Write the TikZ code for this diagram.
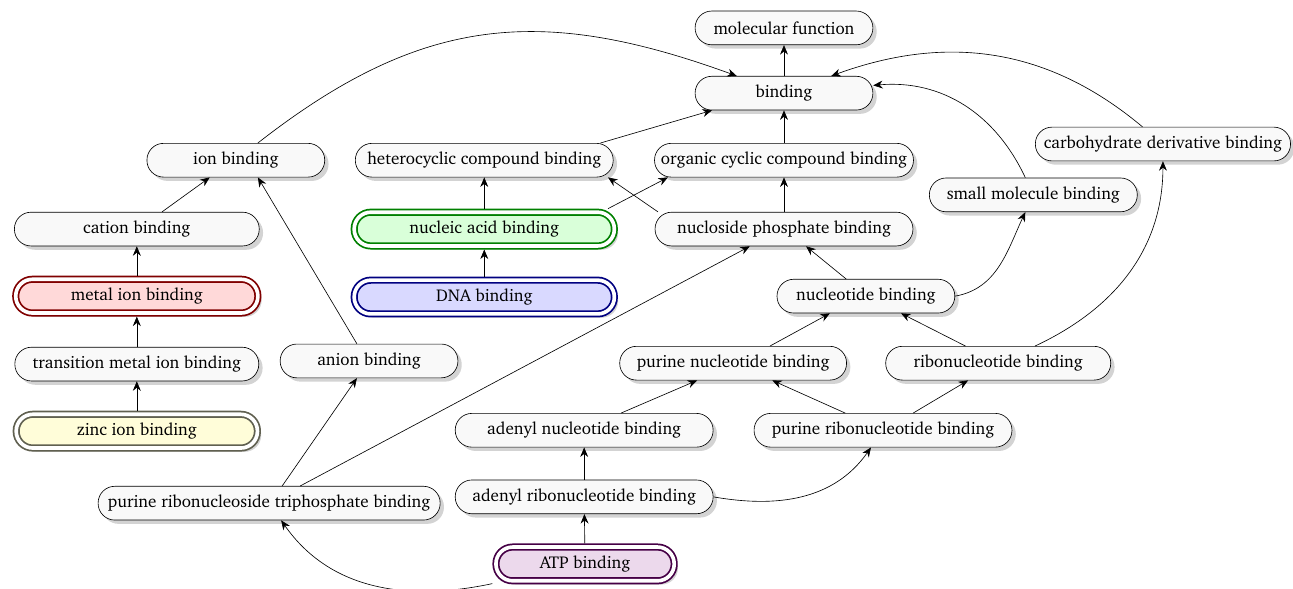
\documentclass[tikz,border=0pt]{standalone}
\usepackage[T1]{fontenc}
\usepackage{charter}
\usepackage{xcolor}
\usepackage{tikz}
\usetikzlibrary{positioning,arrows.meta,shadows}
\definecolor{zincedge}{RGB}{96,96,80}

\begin{document}
\begin{tikzpicture}[
  >={Stealth[length=6pt,width=5pt]},
  term/.style={draw, rectangle, rounded corners=0.37cm, fill=gray!5,
               drop shadow={opacity=0.35}, minimum height=0.75cm,
               minimum width=3.95cm, inner xsep=4pt,
               font=\fontsize{10.8pt}{13pt}\selectfont},
  hilite/.style 2 args={term, double, draw=#1, fill=#2, line width=1.1pt,
               double distance=2.3pt, outer sep=2.25pt}
]
\useasboundingbox (0,0) rectangle (28.73,-13.07);

% --- Top of the ontology ---
\node[term] (molfun) at (17.42,-0.62) {molecular function};
\node[term] (binding) at (17.42,-2.07) {binding};

% --- Direct children of binding ---
\node[term] (ion) at (5.24,-3.56) {ion binding};
\node[term, minimum width=5.73cm] (hetero) at (10.76,-3.56) {heterocyclic compound binding};
\node[term, minimum width=5.73cm] (orgcyc) at (17.42,-3.56) {organic cyclic compound binding};
\node[term, minimum width=5.67cm] (carbo) at (25.84,-3.20) {carbohydrate derivative binding};
\node[term, minimum width=4.62cm] (smallmol) at (22.96,-4.33) {small molecule binding};

% --- Ion branch (left column) ---
\node[term, minimum width=5.44cm] (cation) at (3.04,-5.09) {cation binding};
\node[hilite={red!50!black}{red!15}, minimum width=5.38cm] (metal) at (3.04,-6.58) {metal ion binding};
\node[term, minimum width=5.42cm] (transmetal) at (3.04,-8.09) {transition metal ion binding};
\node[hilite={zincedge}{yellow!15}, minimum width=5.36cm] (zinc) at (3.04,-9.58) {zinc ion binding};
\node[term] (anion) at (8.20,-8.02) {anion binding};

% --- Nucleic acid branch ---
\node[hilite={green!50!black}{green!15}, minimum width=5.78cm] (nucacid) at (10.76,-5.09) {nucleic acid binding};
\node[hilite={blue!50!black}{blue!15}, minimum width=5.78cm] (dna) at (10.76,-6.60) {DNA binding};

% --- Nucleotide branch ---
\node[term, minimum width=5.73cm] (nucphos) at (17.42,-5.09) {nucloside phosphate binding};
\node[term] (nucleotide) at (19.24,-6.58) {nucleotide binding};
\node[term, minimum width=5.04cm] (purnuc) at (16.29,-8.07) {purine nucleotide binding};
\node[term, minimum width=5.0cm] (ribonuc) at (22.18,-8.07) {ribonucleotide binding};
\node[term, minimum width=5.73cm] (adenuc) at (12.98,-9.56) {adenyl nucleotide binding};
\node[term, minimum width=5.73cm] (purribo) at (19.62,-9.56) {purine ribonucleotide binding};
\node[term, minimum width=5.73cm] (adenribo) at (12.98,-11.04) {adenyl ribonucleotide binding};
\node[term, minimum width=7.6cm] (prtb) at (5.98,-11.18) {purine ribonucleoside triphosphate binding};
\node[hilite={violet!55!black}{violet!15}, minimum width=3.96cm] (atp) at (13.0,-12.53) {ATP binding};

% --- Straight is_a links ---
\draw[->] (binding) -- (molfun);
\draw[->] ([xshift=2.58cm]hetero.north) -- ([xshift=-1.6cm]binding.south);
\draw[->] (orgcyc) -- (binding);
\draw[->] ([xshift=0.56cm]cation.north) -- ([xshift=-0.58cm]ion.south);
\draw[->] (nucacid) -- (hetero);
\draw[->] ([xshift=2.75cm]nucacid.north) -- ([xshift=-2.58cm]orgcyc.south);
\draw[->] ([xshift=-2.8cm]nucphos.north) -- ([xshift=2.75cm]hetero.south);
\draw[->] (nucphos) -- (orgcyc);
\draw[->] (metal) -- (cation);
\draw[->] (dna) -- (nucacid);
\draw[->] ([xshift=-0.44cm]nucleotide.north) -- ([xshift=0.49cm]nucphos.south);
\draw[->] (transmetal) -- (metal);
\draw[->] ([xshift=-0.27cm]anion.north) -- ([xshift=0.49cm]ion.south);
\draw[->] ([xshift=0.82cm]purnuc.north) -- ([xshift=-0.8cm]nucleotide.south);
\draw[->] ([xshift=-0.73cm]ribonuc.north) -- ([xshift=0.78cm]nucleotide.south);
\draw[->] (zinc) -- (transmetal);
\draw[->] ([xshift=0.82cm]adenuc.north) -- ([xshift=-0.8cm]purnuc.south);
\draw[->] ([xshift=-0.84cm]purribo.north) -- ([xshift=0.87cm]purnuc.south);
\draw[->] ([xshift=0.67cm]purribo.north) -- ([xshift=-0.67cm]ribonuc.south);
\draw[->] (adenribo) -- (adenuc);
\draw[->] ([xshift=0.29cm]prtb.north) -- ([xshift=-0.27cm]anion.south);
\draw[->] ([xshift=0.69cm]prtb.north) -- ([xshift=-0.76cm]nucphos.south);
\draw[->] (atp) -- (adenribo);

% --- Curved is_a links ---
\draw[->] (ion) to[out=38, in=160, looseness=1.1] (binding);
\draw[->] (carbo) to[out=140, in=20] (binding);
\draw[->] (smallmol) to[out=115, in=5] (binding);
\draw[->] (nucleotide.east) to[out=10, in=-115] (smallmol);
\draw[->] (ribonuc) to[out=25, in=-90] (carbo);
\draw[->] (adenribo.east) to[out=-10, in=-125] (purribo);
\draw[->] (atp) to[out=192, in=-55] (prtb);

\end{tikzpicture}
\end{document}
